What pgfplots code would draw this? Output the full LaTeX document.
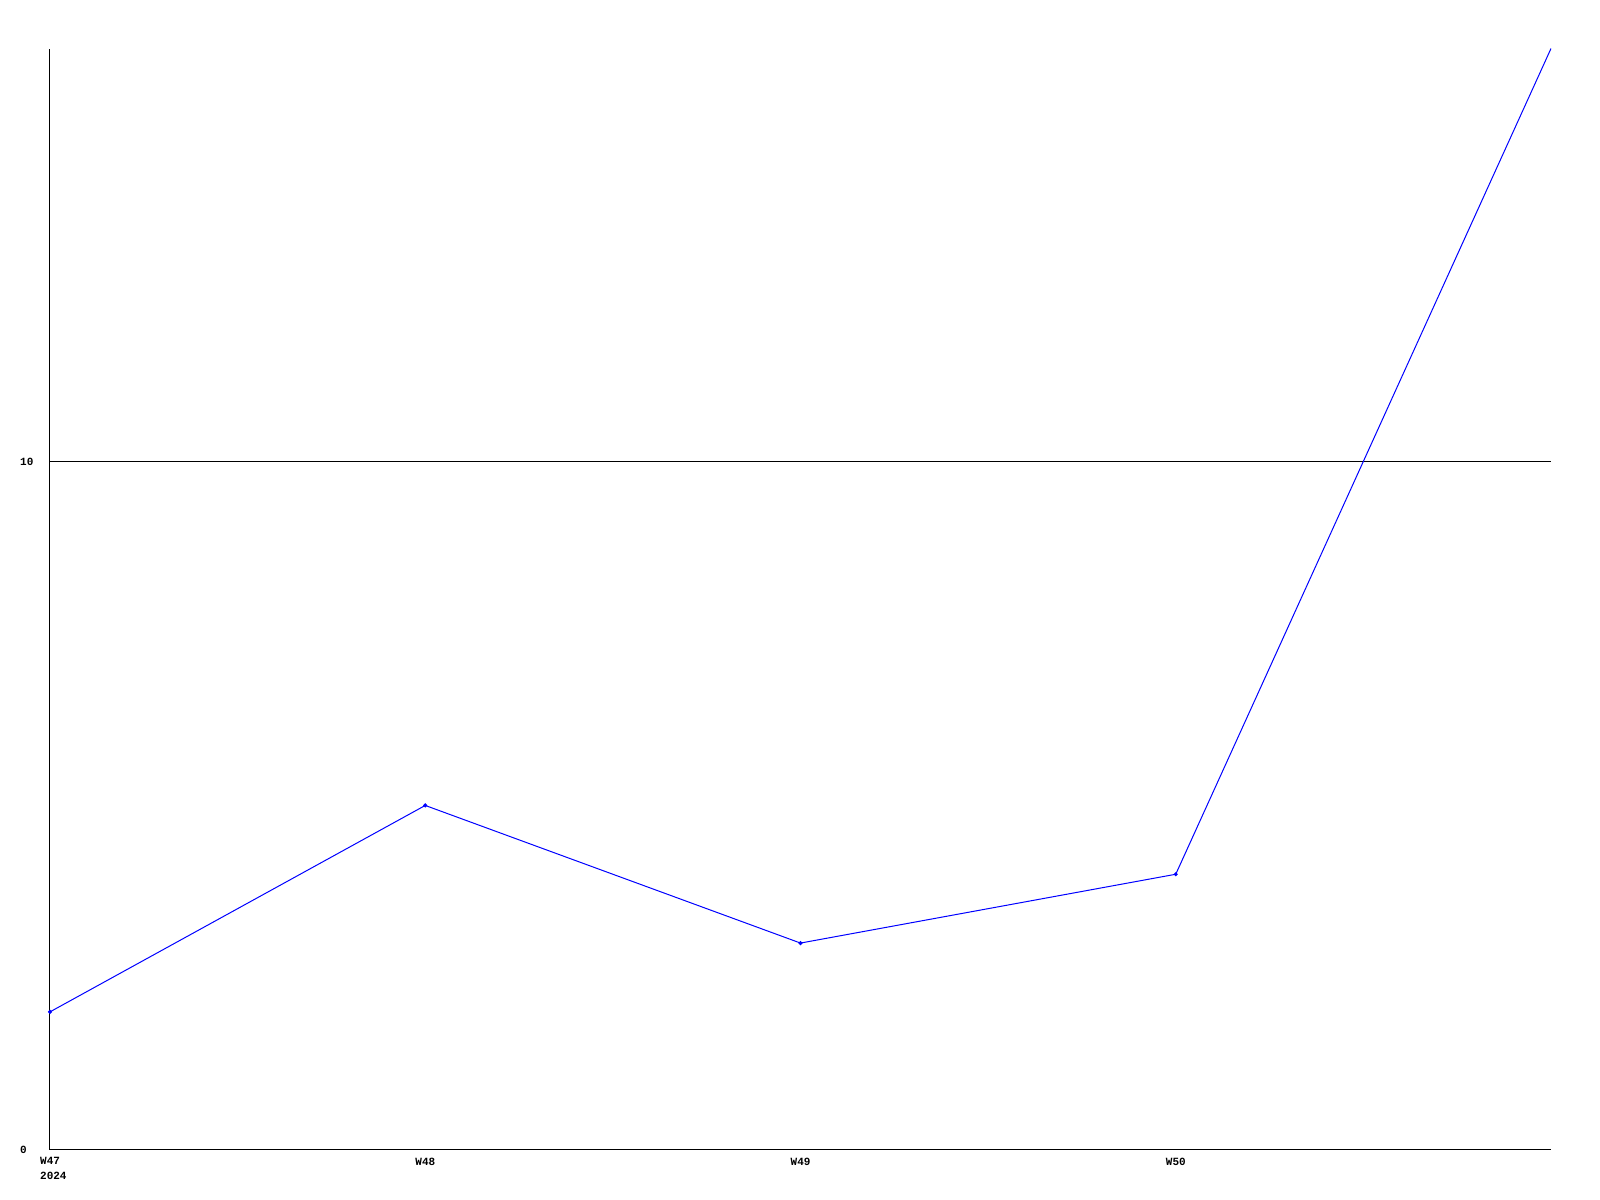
\documentclass[border=0pt]{standalone}
\usepackage{pgfplots}
\pgfplotsset{compat=1.18}
\usepackage{fontspec}
\setmainfont{Liberation Mono}
\begin{document}
\begin{tikzpicture}[x=1pt,y=1pt]
\begin{axis}[
  at={(0pt,0pt)}, anchor=south west,
  scale only axis, width=1501pt, height=1101pt,
  xmin=0, xmax=4, ymin=0, ymax=16,
  axis x line=bottom, axis y line=left,
  axis line style={-, line width=1pt, black},
  xtick={0,1,2,3},
  xticklabels={{W47\\2024},W48,W49,W50},
  ytick={0,10},
  major tick length=0pt,
  ymajorgrids, grid style={black, line width=1pt},
  tick label style={font=\bfseries\fontsize{11}{15}\selectfont},
  /pgf/number format/assume math mode=true,
  xticklabel style={align=left, anchor=north west, inner sep=0pt, xshift=-10pt, yshift=-8pt},
  yticklabel style={anchor=west, inner sep=0pt, xshift=-30pt},
  clip=false,
]
\addplot[color={rgb,255:red,0;green,0;blue,255}, line width=1pt, mark=*, mark size=1.5pt, mark indices={1,2,3,4}] coordinates {
  (0,2) (1,5) (2,3) (3,4) (4,16)
};
\end{axis}
\path (-50pt,-50pt) rectangle (1550pt,1149.5pt);
\end{tikzpicture}
\end{document}
